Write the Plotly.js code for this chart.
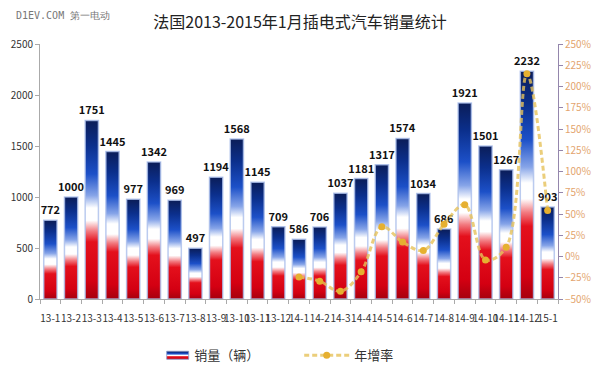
<!DOCTYPE html>
<html><head><meta charset="utf-8">
<script src="https://cdn.plot.ly/plotly-3.0.1.min.js"></script>
<style>html,body{margin:0;padding:0;background:#fff}#chart{width:600px;height:374px}</style>
</head><body><div id="chart"></div>
<script>
const months = ["13-1","13-2","13-3","13-4","13-5","13-6","13-7","13-8","13-9","13-10","13-11","13-12",
                "14-1","14-2","14-3","14-4","14-5","14-6","14-7","14-8","14-9","14-10","14-11","14-12","15-1"];
const sales = [772,1000,1751,1445,977,1342,969,497,1194,1568,1145,709,
               586,706,1037,1181,1317,1574,1034,686,1921,1501,1267,2232,903];
const growthMonths = ["14-1","14-2","14-3","14-4","14-5","14-6","14-7","14-8","14-9","14-10","14-11","14-12","15-1"];
const growth = [-24,-29,-41,-18,35,17,7,38,61,-4,11,215,54];

const cjk = "'Noto Sans CJK SC', 'Noto Sans', sans-serif";

const bars = {
  type: 'bar', name: '销量（辆）', x: months, y: sales,
  marker: {color: '#1b4fc8', line: {color: 'rgba(170,190,235,0.8)', width: 1.5}},
  text: sales.map(String), textposition: 'outside', cliponaxis: false, constraintext: 'none',
  textfont: {family: cjk, size: 11, color: '#111', weight: 'bold'},
  hoverinfo: 'x+y'
};
const line = {
  type: 'scatter', mode: 'lines+markers', name: '年增率', x: growthMonths, y: growth, yaxis: 'y2',
  line: {color: 'rgba(230,194,90,0.8)', width: 3, dash: '5px,3px', shape: 'spline', smoothing: 1},
  marker: {color: '#e6b030', size: 7},
  cliponaxis: false
};

const layout = {
  width: 600, height: 374,
  margin: {l: 40, r: 42, t: 44, b: 75, autoexpand: false},
  paper_bgcolor: '#fff', plot_bgcolor: '#fff',
  bargap: 0.36,
  showlegend: true,
  font: {family: cjk, color: '#333'},
  title: {text: '法国2013-2015年1月插电式汽车销量统计', x: 0.5, xanchor: 'center', y: 0.94, yanchor: 'middle',
          font: {family: cjk, size: 16, color: '#222'}},
  xaxis: {type: 'category', categoryorder: 'array', categoryarray: months, range: [-0.5, 24.5],
          tickangle: 0, showline: true, linecolor: '#aaa', linewidth: 1, ticks: 'outside', ticklen: 4,
          tickcolor: '#aaa', tickson: 'boundaries', showgrid: false, zeroline: false, ticklabelstandoff: 10,
          tickfont: {family: cjk, size: 10, color: '#333'}},
  yaxis: {range: [0, 2500], dtick: 500, showline: true, linecolor: '#aaa', ticks: 'outside', ticklen: 4,
          tickcolor: '#aaa', showgrid: false, zeroline: false,
          tickfont: {family: cjk, size: 10, color: '#333'}},
  yaxis2: {overlaying: 'y', side: 'right', range: [-50, 250], dtick: 25, ticksuffix: '%',
           showline: true, linecolor: '#9486ac', ticks: 'outside', ticklen: 4, tickcolor: '#9486ac',
           showgrid: false, zeroline: false,
           tickfont: {family: cjk, size: 10, color: '#e3a46e'}},
  legend: {orientation: 'h', xref: 'container', x: 0.232, xanchor: 'left', yref: 'container', y: 0.05, yanchor: 'middle',
           font: {family: cjk, size: 13, color: '#333'}, entrywidth: 100, itemwidth: 45},
  annotations: [{text: 'D1EV.COM 第一电动', xref: 'paper', yref: 'paper', x: -0.05, y: 1.11,
                 xanchor: 'left', yanchor: 'middle', showarrow: false,
                 font: {family: "'DejaVu Sans Mono', monospace", size: 10, color: '#777'}}]
};

Plotly.newPlot('chart', [bars, line], layout, {displayModeBar: false, staticPlot: true}).then(gd => {
  const svg = gd.querySelector('svg.main-svg');
  const ns = 'http://www.w3.org/2000/svg';
  let defs = svg.querySelector('defs');
  if (!defs) { defs = document.createElementNS(ns, 'defs'); svg.insertBefore(defs, svg.firstChild); }
  const g = document.createElementNS(ns, 'linearGradient');
  g.setAttribute('id', 'flagGrad'); g.setAttribute('x1', '0'); g.setAttribute('y1', '0');
  g.setAttribute('x2', '0'); g.setAttribute('y2', '1');
  const stops = [[0,'#0b1d58'],[0.14,'#0b2f8c'],[0.3,'#1c50c8'],[0.42,'#86a4e8'],[0.49,'#ffffff'],
                 [0.56,'#ffffff'],[0.62,'#f27a80'],[0.68,'#e4101c'],[0.9,'#d40012'],[1,'#a6000e']];
  stops.forEach(([o,c]) => { const s = document.createElementNS(ns, 'stop');
    s.setAttribute('offset', o); s.setAttribute('stop-color', c); g.appendChild(s); });
  defs.appendChild(g);
  gd.querySelectorAll('.barlayer .point path').forEach(p => { p.style.fill = 'url(#flagGrad)'; });
  const tr = gd.querySelectorAll('.legend .traces');
  if (tr[0]) tr[0].querySelectorAll('.legendpoints path').forEach(p => {
    p.setAttribute('d', 'M0,-4H22V4H0Z');
    p.style.fill = 'url(#flagGrad)';
    p.style.stroke = '#8899cc'; p.style.strokeWidth = '1px';
  });
});
</script>
</body></html>
